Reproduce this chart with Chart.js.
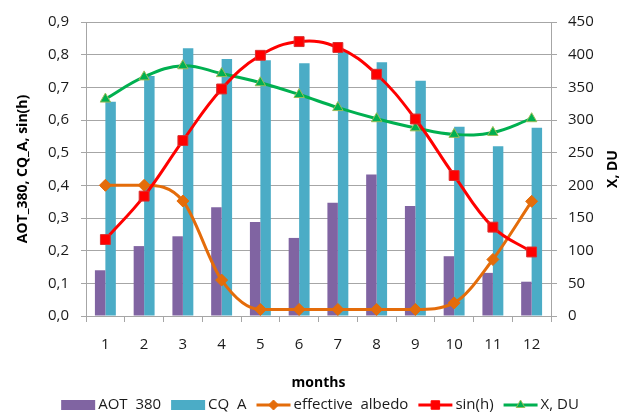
<!DOCTYPE html>
<html>
<head>
<meta charset="utf-8">
<script src="https://cdn.jsdelivr.net/npm/chart.js@4.4.1/dist/chart.umd.min.js"></script>
<style>
  html, body { margin: 0; padding: 0; background: #fff; }
  #wrap { width: 625px; height: 414px; position: relative; }
</style>
</head>
<body>
<div id="wrap"><canvas id="c" width="625" height="414"></canvas></div>
<script>
// Monthly values
const months = ['1','2','3','4','5','6','7','8','9','10','11','12'];
const aot380 = [0.14, 0.214, 0.244, 0.333, 0.288, 0.239, 0.347, 0.433, 0.337, 0.183, 0.132, 0.105];
const cqA = [0.656, 0.735, 0.82, 0.787, 0.783, 0.774, 0.81, 0.777, 0.72, 0.579, 0.52, 0.576];
const effAlbedo = [0.4, 0.4, 0.352, 0.11, 0.02, 0.02, 0.02, 0.02, 0.02, 0.04, 0.173, 0.351];
const sinH = [0.234, 0.367, 0.537, 0.695, 0.798, 0.84, 0.822, 0.74, 0.603, 0.43, 0.272, 0.196];
const xDU = [332, 366, 383, 371, 357, 339, 319, 302, 288, 278, 281, 302];

const seriesNames = ['AOT  380', 'CQ  A', 'effective  albedo', 'sin(h)', 'X, DU'];
const leftTitle = 'AOT_380, CQ_A, sin(h)';
const rightTitle = 'X, DU';
const xTitle = 'months';

const FONT = '"Open Sans", sans-serif';
const C_PURPLE = '#8064A2', C_CYAN = '#4BACC6', C_ORANGE = '#E46C0A', C_RED = '#FF0000', C_GREEN = '#00B050';
const GRID = '#A6A6A6';
const TXT = '#1a1a1a';

// Titles and the legend row drawn after the chart
const decorations = {
  id: 'decorations',
  afterDraw(chart) {
    const ctx = chart.ctx;
    const area = chart.chartArea;
    const midY = (area.top + area.bottom) / 2;
    ctx.save();
    ctx.fillStyle = '#000';
    ctx.font = 'bold 14px ' + FONT;
    ctx.textAlign = 'center';
    ctx.textBaseline = 'middle';
    ctx.save(); ctx.translate(23, midY); ctx.rotate(-Math.PI / 2); ctx.fillText(leftTitle, 0, 0); ctx.restore();
    ctx.save(); ctx.translate(613, midY); ctx.rotate(-Math.PI / 2); ctx.fillText(rightTitle, 0, 0); ctx.restore();
    ctx.fillText(xTitle, (area.left + area.right) / 2, 383);

    // legend
    ctx.font = '15px ' + FONT;
    ctx.textAlign = 'left';
    const items = [
      { kind: 'bar', color: C_PURPLE },
      { kind: 'bar', color: C_CYAN },
      { kind: 'line', color: C_ORANGE, style: 'rectRot', r: 5 },
      { kind: 'line', color: C_RED, style: 'rect', r: 6 },
      { kind: 'line', color: C_GREEN, style: 'triangle', r: 5, border: '#9BBB59' }
    ];
    const sw = 34, gap = 3, sep = 10;
    let total = 0;
    items.forEach((it, i) => { it.tw = ctx.measureText(seriesNames[i]).width; total += sw + gap + it.tw + (i ? sep : 0); });
    let x = 320 - total / 2;
    const y = 405;
    items.forEach((it, i) => {
      if (it.kind === 'bar') {
        ctx.fillStyle = it.color;
        ctx.fillRect(x, y - 5, sw, 10);
      } else {
        ctx.strokeStyle = it.color; ctx.lineWidth = 3;
        ctx.beginPath(); ctx.moveTo(x, y); ctx.lineTo(x + sw, y); ctx.stroke();
        ctx.fillStyle = it.color; ctx.strokeStyle = it.border || it.color; ctx.lineWidth = 1;
        Chart.helpers.drawPoint(ctx, { pointStyle: it.style, radius: it.r, borderWidth: 1 }, x + sw / 2, y);
      }
      ctx.fillStyle = TXT;
      ctx.fillText(seriesNames[i], x + sw + gap, y);
      x += sw + gap + it.tw + sep;
    });
    ctx.restore();
  }
};

const lineDs = (label, data, color, style, radius, border, axis, order, extra) => Object.assign({
  type: 'line', label, data, yAxisID: axis, order,
  borderColor: color, backgroundColor: color, borderWidth: 3,
  pointStyle: style, pointRadius: radius, pointBackgroundColor: color,
  pointBorderColor: border, pointBorderWidth: 1,
  tension: 0.4, fill: false
}, extra || {});

new Chart(document.getElementById('c'), {
  data: {
    labels: months,
    datasets: [
      { type: 'bar', label: seriesNames[0], data: aot380, backgroundColor: C_PURPLE, yAxisID: 'y', order: 4,
        categoryPercentage: 0.54, barPercentage: 1 },
      { type: 'bar', label: seriesNames[1], data: cqA, backgroundColor: C_CYAN, yAxisID: 'y', order: 5,
        categoryPercentage: 0.54, barPercentage: 1 },
      lineDs(seriesNames[2], effAlbedo, C_ORANGE, 'rectRot', 6, C_ORANGE, 'y', 1, { cubicInterpolationMode: 'monotone' }),
      lineDs(seriesNames[3], sinH, C_RED, 'rect', 7, '#D83030', 'y', 0),
      lineDs(seriesNames[4], xDU, C_GREEN, 'triangle', 6, '#9BBB59', 'y1', 2)
    ]
  },
  options: {
    responsive: false,
    animation: false,
    devicePixelRatio: 1,
    layout: { padding: { top: 22, left: 0, right: 0, bottom: 0 } },
    plugins: { legend: { display: false }, tooltip: { enabled: false } },
    scales: {
      x: {
        offset: true,
        grid: { offset: true, drawOnChartArea: false, drawTicks: true, tickLength: 6, color: GRID },
        border: { display: true, color: GRID, width: 1 },
        ticks: { color: TXT, font: { family: FONT, size: 15 }, padding: 14 },
        afterFit(s) { s.height = 98; }
      },
      y: {
        position: 'left', min: 0, max: 0.9,
        grid: { color: GRID, tickLength: 5, lineWidth: 1 },
        border: { display: true, color: GRID },
        ticks: { stepSize: 0.1, color: TXT, font: { family: FONT, size: 15 }, padding: 12,
          callback: v => v.toFixed(1).replace('.', ',') },
        afterFit(s) { s.width = 86; }
      },
      y1: {
        position: 'right', min: 0, max: 450,
        grid: { drawOnChartArea: false, color: GRID, tickLength: 6 },
        border: { display: true, color: GRID },
        ticks: { stepSize: 50, color: TXT, font: { family: FONT, size: 15 }, padding: 11 },
        afterFit(s) { s.width = 74; }
      }
    }
  },
  plugins: [decorations]
});
</script>
</body>
</html>
